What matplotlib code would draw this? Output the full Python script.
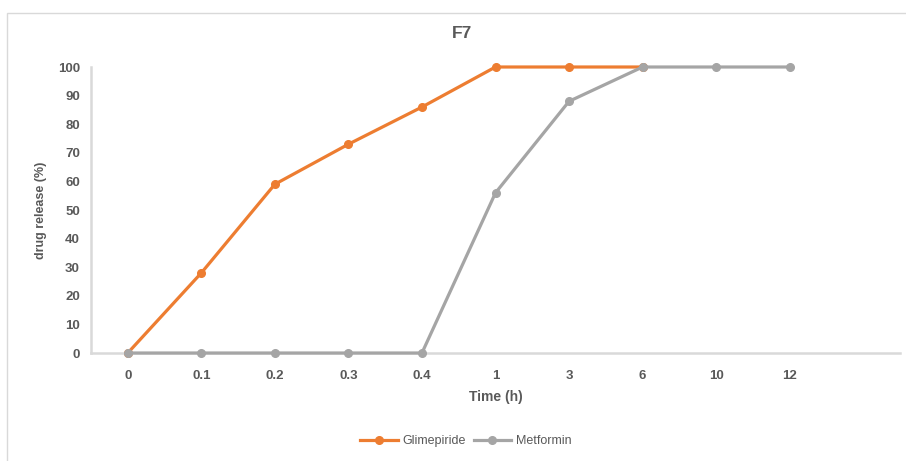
import matplotlib
matplotlib.use("Agg")
import matplotlib.pyplot as plt
from matplotlib.patches import Rectangle

categories = ["0", "0.1", "0.2", "0.3", "0.4", "1", "3", "6", "10", "12"]
glimepiride = [0, 28, 59, 73, 86, 100, 100, 100]
metformin = [0, 0, 0, 0, 0, 56, 88, 100, 100, 100]
yticks = [0, 10, 20, 30, 40, 50, 60, 70, 80, 90, 100]

plt.rcParams['font.family'] = ['Liberation Sans', 'DejaVu Sans']
txt = '#595959'

fig = plt.figure(figsize=(9.06, 4.61), dpi=100)
fig.patches.append(Rectangle((7/906, -0.02), 1.1, 1 - 13/461 + 0.02, transform=fig.transFigure,
                             fill=False, edgecolor='#d9d9d9', linewidth=1.0))
ax = fig.add_axes([91/906, 1 - 353/461, (900 - 91)/906, (353 - 67)/461])

x_g = list(range(len(glimepiride)))
x_m = list(range(len(metformin)))
ax.plot(x_g, glimepiride, color='#ED7D31', lw=2.3, marker='o', ms=5.5, clip_on=False, zorder=3,
        label='Glimepiride')
ax.plot(x_m, metformin, color='#A5A5A5', lw=2.3, marker='o', ms=5.5, clip_on=False, zorder=4,
        label='Metformin')

ax.set_xlim(-0.5, len(categories) + 0.5)
ax.set_ylim(0, 100)
ax.set_xticks(range(len(categories)))
ax.set_xticklabels(categories)
ax.set_yticks(yticks)
ax.tick_params(length=0, labelsize=9.5, colors=txt, pad=8)
ax.tick_params(axis='x', pad=12)
for lab in ax.get_xticklabels() + ax.get_yticklabels():
    lab.set_fontweight('bold')
for s in ['top', 'right']:
    ax.spines[s].set_visible(False)
for s in ['left', 'bottom']:
    ax.spines[s].set_color('#d9d9d9')
    ax.spines[s].set_linewidth(1.8)

ax.set_xlabel('Time (h)', fontsize=10, fontweight='bold', color=txt, labelpad=6)
ax.set_ylabel('drug release (%)', fontsize=9, fontweight='bold', color=txt, labelpad=8)
fig.text(462/906, 1 - 33/461, 'F7', ha='center', va='center', fontsize=12.5, fontweight='bold', color=txt)

leg = fig.legend(loc='center', bbox_to_anchor=(466/906, 1 - 441/461), ncol=2, frameon=False,
                 fontsize=9, handlelength=3, columnspacing=0.6, handletextpad=0.4)
for t in leg.get_texts():
    t.set_color(txt)

fig.savefig('out.png', dpi=100)
